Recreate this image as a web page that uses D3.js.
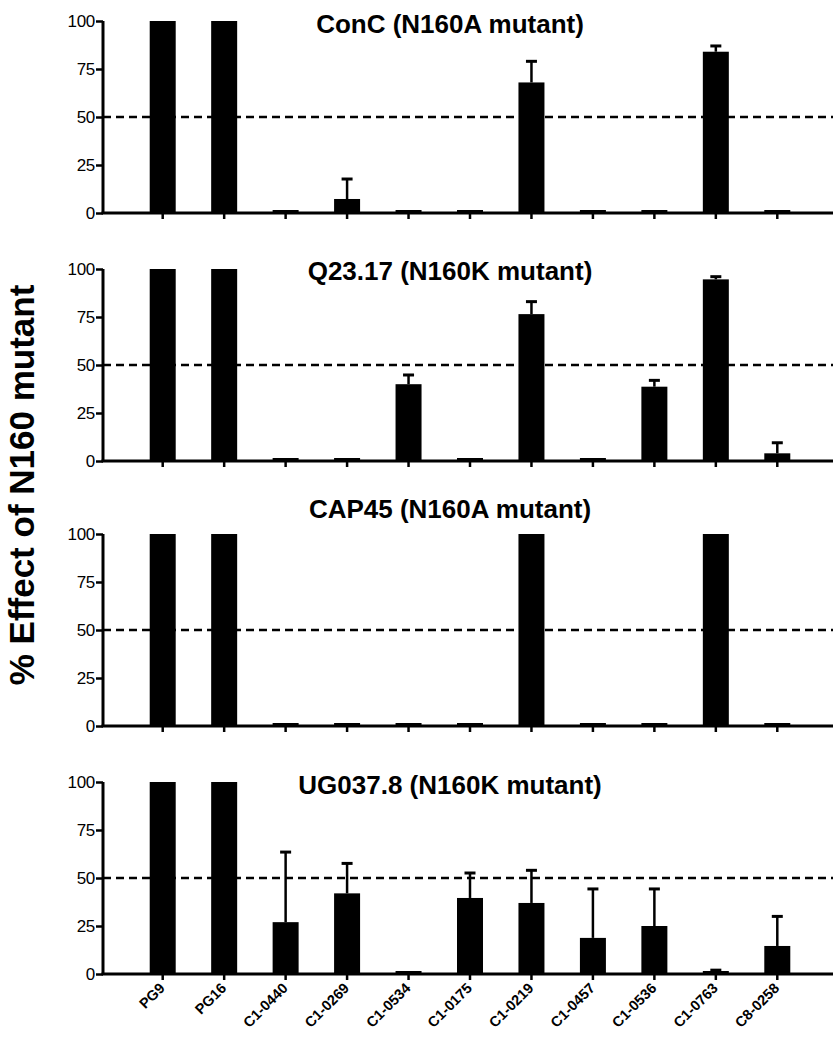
<!DOCTYPE html>
<html><head><meta charset="utf-8">
<script src="https://cdn.jsdelivr.net/npm/d3@7"></script>
<style>body{margin:0;background:#fff}svg{display:block}</style>
</head><body>
<script>
const categories = ["PG9","PG16","C1-0440","C1-0269","C1-0534","C1-0175","C1-0219","C1-0457","C1-0536","C1-0763","C8-0258"];
const panelTitles = ["ConC (N160A mutant)","Q23.17 (N160K mutant)","CAP45 (N160A mutant)","UG037.8 (N160K mutant)"];
const yTicks = [0,25,50,75,100];
const threshold = 50;
const yLabel = "% Effect of N160 mutant";

const concMean  = [100,100,0.5,7.3,0.4,0.4,68,0.4,0.4,84,0.4];
const concErr   = [100,100,null,17.7,null,null,79,null,null,87,null];
const q23Mean   = [100,100,0.5,0.8,40,0.5,76.5,0.5,38.7,94.6,4];
const q23Err    = [100,100,null,null,44.8,null,83,null,42,96,9.5];
const cap45Mean = [100,100,0.4,0.4,0.4,0.4,100,0.4,0.4,100,0.4];
const cap45Err  = [100,100,null,null,null,null,100,null,null,100,null];
const ugMean    = [100,100,27,42,0.4,39.6,37,18.8,25,1.2,14.6];
const ugErr     = [100,100,63.5,57.6,null,52.6,54,44.3,44.3,2,30];

const panels = [
  {title: panelTitles[0], mean: concMean, err: concErr, top: 21, titleY: 33},
  {title: panelTitles[1], mean: q23Mean, err: q23Err, top: 269, titleY: 280},
  {title: panelTitles[2], mean: cap45Mean, err: cap45Err, top: 534, titleY: 518},
  {title: panelTitles[3], mean: ugMean, err: ugErr, top: 782, titleY: 794}
];

const W = 833, H = 1043;
const plotH = 192, axisX = 103;
const svg = d3.select("body").append("svg").attr("width", W).attr("height", H)
  .style("font-family", "Liberation Sans, Arial, Helvetica, sans-serif");
const defs = svg.append("defs");

const x = d3.scaleBand().domain(categories).range([axisX, 837]).paddingInner(0.577).paddingOuter(0.76);

panels.forEach((p, pi) => {
  const y = d3.scaleLinear().domain([0,100]).range([p.top + plotH, p.top]);
  const g = svg.append("g");

  g.append("line").attr("x1", axisX).attr("x2", W).attr("y1", y(threshold)).attr("y2", y(threshold))
    .attr("stroke", "#000").attr("stroke-width", 2.5).attr("stroke-dasharray", "8,5");

  g.selectAll("rect.bar").data(categories).join("rect").attr("class","bar")
    .attr("x", d => x(d)).attr("width", x.bandwidth())
    .attr("y", (d,i) => Math.min(y(p.mean[i]), y(0) - 3)).attr("height", (d,i) => Math.max(3, y(0) - y(p.mean[i])))
    .attr("fill", "#000");

  categories.forEach((c, i) => {
    const e = p.err[i];
    if (e == null || e <= p.mean[i] + 0.5) return;
    const cx = x(c) + x.bandwidth()/2;
    g.append("line").attr("x1", cx).attr("x2", cx).attr("y1", y(p.mean[i])).attr("y2", y(e))
      .attr("stroke", "#000").attr("stroke-width", 2.5);
    g.append("line").attr("x1", cx - 5.5).attr("x2", cx + 5.5).attr("y1", y(e)).attr("y2", y(e))
      .attr("stroke", "#000").attr("stroke-width", 3);
  });

  const ya = g.append("g").attr("transform", `translate(${axisX},0)`)
    .call(d3.axisLeft(y).tickValues(yTicks).tickSize(7).tickPadding(1));
  ya.select(".domain").attr("stroke-width", 3).attr("d", `M0,${y(100)}V${y(0)}`);
  ya.selectAll(".tick line").attr("stroke-width", 2.5);
  ya.selectAll(".tick text").attr("font-size", 17).attr("fill", "#000").attr("letter-spacing", "-0.3");

  const xa = g.append("g").attr("transform", `translate(0,${y(0)})`)
    .call(d3.axisBottom(x).tickSize(6).tickSizeOuter(0));
  xa.select(".domain").attr("stroke-width", 3).attr("d", `M${axisX - 1.5},0H${W}`);
  xa.selectAll(".tick line").attr("stroke-width", 2.5);
  xa.selectAll(".tick text").remove();

  if (pi === panels.length - 1) {
    const base = y(0);
    const L = 90, k = Math.SQRT1_2;
    categories.forEach((d, i) => {
      const tx = x(d) + x.bandwidth()/2 + 3, ty = base + 15;
      defs.append("path").attr("id", "xl" + i)
        .attr("d", `M${tx - L*k},${ty + L*k}L${tx},${ty}`);
      g.append("text").attr("class", "xlab")
        .attr("font-size", 14.5).attr("font-weight", "bold").attr("fill", "#000")
        .append("textPath").attr("href", "#xl" + i).attr("startOffset", "100%")
        .attr("text-anchor", "end").text(d);
    });
  }

  g.append("text").attr("x", 450).attr("y", p.titleY).attr("text-anchor", "middle")
    .attr("font-size", 26).attr("font-weight", "bold").text(p.title);
});

svg.append("text").attr("transform", "translate(34,485) rotate(-90)").attr("text-anchor", "middle")
  .attr("font-size", 35).attr("font-weight", "bold").text(yLabel);
</script>
</body></html>
